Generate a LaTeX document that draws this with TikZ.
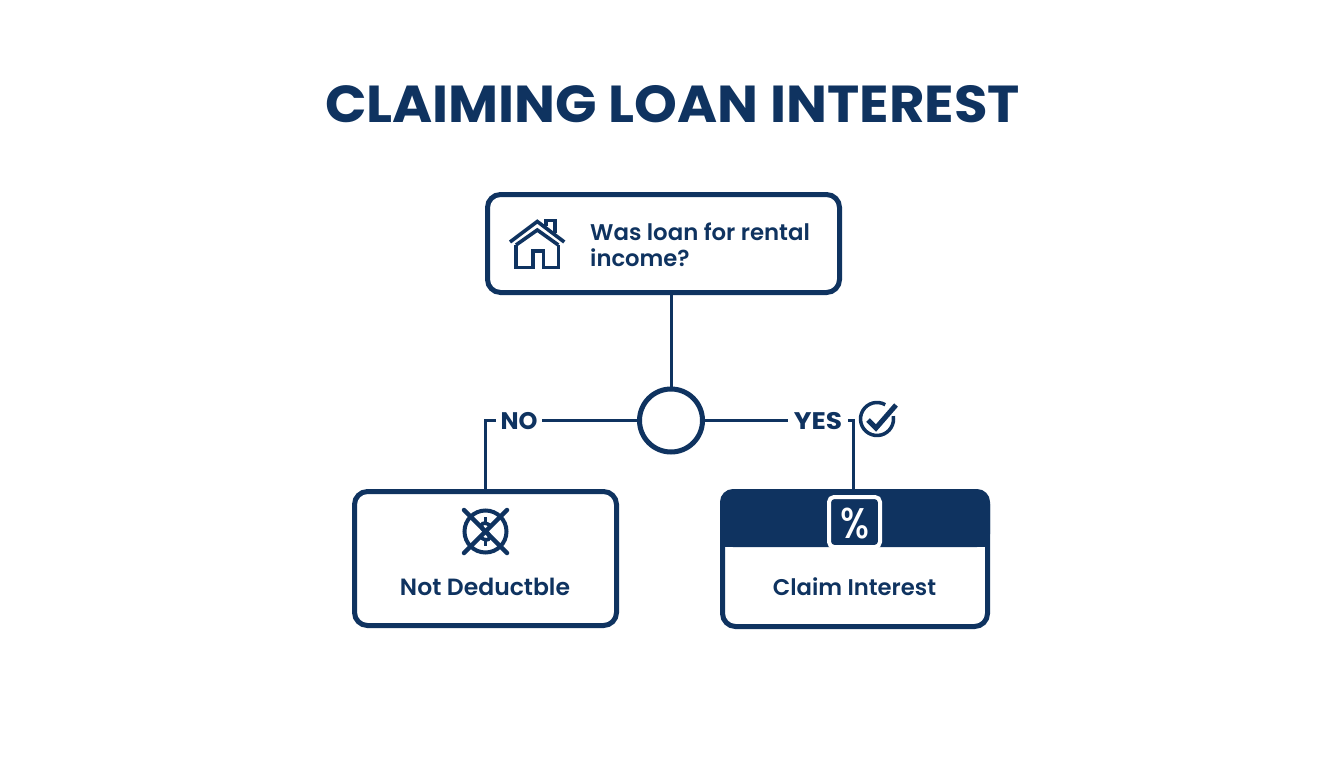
\documentclass[tikz,border=0pt]{standalone}
\usepackage{fontspec}
\setmainfont{Poppins}
\newfontfamily\titlefont{Poppins Bold}
\newfontfamily\labelfont{Poppins SemiBold}
\newfontfamily\pctfont{Poppins Medium}
\definecolor{navy}{HTML}{0F3360}
\tikzset{
  flowbox/.style={draw=navy,line width=5pt,fill=white,rounded corners=13pt,inner sep=0pt},
  wire/.style={draw=navy,line width=3pt},
  label/.style={text=navy,font=\labelfont\fontsize{22.7}{27}\selectfont,inner sep=0pt},
  branch/.style={text=navy,font=\titlefont\fontsize{24}{28}\selectfont,inner sep=0pt},
  icon/.style={draw=navy,line width=3.6pt},
}
\begin{document}
\begin{tikzpicture}[x=1pt,y=-1pt]
\useasboundingbox (0,0) rectangle (1344,768);
\fill[white] (0,0) rectangle (1344,768);
\node[text=navy,font=\titlefont\fontsize{52}{60}\selectfont,inner sep=0pt] (title) at (672.5,104) {\scalebox{1.048}[1]{CLAIMING LOAN INTEREST}};
% boxes
\node[flowbox,minimum width=352pt,minimum height=98pt] (q) at (663.5,243.5) {};
\node[flowbox,minimum width=262pt,minimum height=134pt] (nd) at (485.5,558.5) {};
\node[flowbox,minimum width=265pt,minimum height=135pt] (ci) at (855,559) {};
\node[draw=navy,line width=5pt,fill=white,circle,minimum size=63pt,inner sep=0pt] (dec) at (671,420.5) {};
% labels
\node[label,anchor=west,align=left] (qt) at (590,244.5) {\scalebox{1.005}[1]{Was loan for rental}\\[-1pt]income?};
\node[branch,minimum width=46pt] (no) at (519,421.5) {NO};
\node[branch,minimum width=60pt] (yes) at (818,421.5) {\scalebox{1.1}[1]{YES}};
\node[label,font=\labelfont\fontsize{23.5}{27}\selectfont] (ndt) at (485,586.5) {Not Deductble};
% header of right box
\fill[navy,rounded corners=13pt] (720,489) -- (990,489) -- (990,547) -- (720,547) -- cycle;
\fill[navy] (720,510) rectangle (990,547);
\node[label] (cit) at (854.5,586.5) {Claim Interest};
\node[draw=white,fill=navy,line width=4pt,rounded corners=5pt,minimum width=51pt,minimum height=50pt,inner sep=0pt] (pct) at (854.5,522) {};
\node[text=white,font=\pctfont\fontsize{43}{44}\selectfont,inner sep=0pt] (pctt) at (855,524) {\scalebox{0.85}[1]{\%}};
% connectors
\coordinate (rt) at (853,489);
\coordinate (noel) at (485,420.5);
\coordinate (yesel) at (853,420.5);
\draw[wire] (q.south -| dec.north) -- (dec.north);
\draw[wire] (dec.west) -- (dec.west -| no.east);
\draw[wire] (dec.east) -- (dec.east -| yes.west);
\draw[wire] (noel -| no.west) -- (noel) -- (nd.north -| noel);
\draw[wire] (yesel -| yes.east) -- (yesel) -- (rt);
% house
\begin{scope}[line width=3.6pt,draw=navy]
\draw (510,242) -- (537.3,221.5) -- (564.3,242);
\draw (516,245) -- (537.3,230) -- (558.3,245);
\draw (546,226) -- (546,220.5) -- (555,220.5) -- (555,233);
\draw (516,245) -- (516,267.5) -- (532.7,267.5) -- (532.7,251) -- (543.3,251) -- (543.3,267.5) -- (558.3,267.5) -- (558.3,245);
\end{scope}
% cross-out icon
\draw[icon,line width=4pt] (485.5,531.5) circle (21);
\draw[icon,line width=4.5pt,line cap=round] (464,510) -- (507,553);
\draw[icon,line width=4.5pt,line cap=round] (507,510) -- (464,553);
\draw[navy,line width=3.6pt] (491,526) .. controls (480,518) and (479,529) .. (485.5,531.5) .. controls (492,534) and (491,545) .. (480,537);
\draw[navy,line width=3.6pt] (485.5,517) -- (485.5,522) (485.5,541) -- (485.5,546);
% check icon
\draw[navy,line width=3.5pt] (885.25,404.7) arc[start angle=-60,delta angle=-310,radius=16.5];
\draw[navy,line width=5pt] (868,420) -- (876,428) -- (896,405);
\end{tikzpicture}
\end{document}
